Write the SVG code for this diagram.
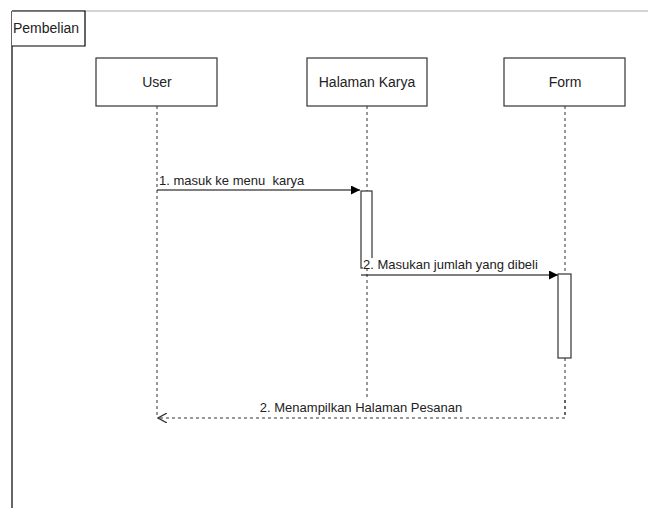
<svg xmlns="http://www.w3.org/2000/svg" width="648" height="508" viewBox="0 0 648 508">
<defs>
<style>
text{font-family:"Liberation Sans",Arial,sans-serif;fill:#222}
.box{fill:#fff;stroke:#333;stroke-width:1.2}
.life{stroke:#333;stroke-width:1;stroke-dasharray:3,3;fill:none}
.msg{stroke:#000;stroke-width:1.2;fill:none}
.ret{stroke:#333;stroke-width:1;stroke-dasharray:3,3;fill:none}
.lbl{font-size:13px}
.name{font-size:14px;text-anchor:middle}
</style>
<marker id="filled" viewBox="0 0 10 10" refX="10" refY="5" markerWidth="9" markerHeight="9" markerUnits="userSpaceOnUse" orient="auto">
<path d="M0,0 L10,5 L0,10 Z" fill="#000"/>
</marker>
<marker id="open" viewBox="0 0 10 10" refX="9" refY="5" markerWidth="10" markerHeight="10" markerUnits="userSpaceOnUse" orient="auto">
<path d="M0,0 L9,5 L0,10" fill="none" stroke="#333" stroke-width="1.3"/>
</marker>
</defs>
<rect width="648" height="508" fill="#fff"/>
<g id="frame">
<line x1="12" y1="11" x2="648" y2="11" stroke="#aaa" stroke-width="1"/>
<line x1="12" y1="11" x2="12" y2="508" stroke="#000" stroke-width="1.2"/>
<path d="M12,11 H85 V46 H12" fill="#fff" stroke="#000" stroke-width="1.2"/>
<text x="13" y="33" font-size="14">Pembelian</text>
</g>
<g id="connectors">
<line class="life" x1="157" y1="106" x2="157" y2="418"/>
<line class="life" x1="367" y1="106" x2="367" y2="418"/>
<line class="life" x1="565" y1="106" x2="565" y2="418"/>
<line class="msg" x1="157" y1="190" x2="360" y2="190" marker-end="url(#filled)"/>
<line class="msg" x1="361" y1="275" x2="558" y2="275" marker-end="url(#filled)"/>
<polyline class="ret" points="565,400 565,418 158,418" marker-end="url(#open)"/>
</g>
<g id="user">
<rect class="box" x="96" y="58" width="121" height="48"/>
<text class="name" x="157" y="87">User</text>
</g>
<g id="halaman-karya">
<rect class="box" x="307" y="58" width="120" height="48"/>
<text class="name" x="367" y="87">Halaman Karya</text>
<rect class="box" x="361" y="191" width="11" height="77"/>
</g>
<g id="form">
<rect class="box" x="504" y="58" width="121" height="48"/>
<text class="name" x="565" y="87">Form</text>
<rect class="box" x="558" y="274" width="13" height="84"/>
</g>
<g id="labels">
<text class="lbl" x="159" y="185" xml:space="preserve">1. masuk ke menu  karya</text>
<rect x="363" y="258" width="180" height="11" fill="#fff"/>
<text class="lbl" x="363" y="269">2. Masukan jumlah yang dibeli</text>
<rect x="257" y="400" width="208" height="15" fill="#fff"/>
<text class="lbl" x="361" y="412" text-anchor="middle">2. Menampilkan Halaman Pesanan</text>
</g>
</svg>
